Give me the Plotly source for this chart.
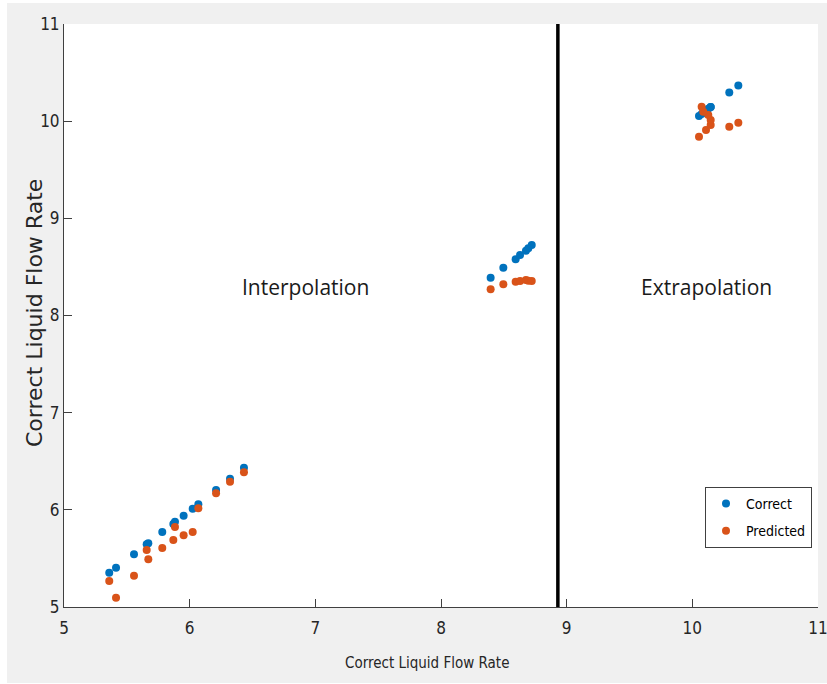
import plotly.graph_objects as go

# ---- data ----
correct_x = [5.360, 5.414, 5.557, 5.658, 5.671, 5.782, 5.870, 5.883, 5.952, 6.024, 6.069, 6.210, 6.321, 6.432,
             8.395, 8.496, 8.594, 8.629, 8.676, 8.695, 8.722,
             10.053, 10.109, 10.146, 10.146, 10.127, 10.087, 10.074, 10.294, 10.366]
correct_y = [5.353, 5.405, 5.543, 5.646, 5.656, 5.772, 5.854, 5.878, 5.940, 6.012, 6.058, 6.204, 6.320, 6.433,
             8.389, 8.492, 8.578, 8.623, 8.667, 8.692, 8.726,
             10.053, 10.109, 10.146, 10.146, 10.127, 10.087, 10.074, 10.294, 10.366]
predicted_y = [5.268, 5.096, 5.322, 5.587, 5.491, 5.607, 5.690, 5.824, 5.738, 5.772, 6.016, 6.170, 6.290, 6.386,
               8.270, 8.321, 8.348, 8.355, 8.365, 8.358, 8.355,
               9.840, 9.909, 9.961, 10.012, 10.064, 10.097, 10.149, 9.943, 9.984]
boundary_x = [8.93, 8.93]
boundary_y = [5, 11]
tick_vals = [5, 6, 7, 8, 9, 10, 11]
region_labels = ["Interpolation", "Extrapolation"]
region_x = [6.92, 10.11]
region_y = [8.29, 8.29]

narrow = "Liberation Sans Narrow, DejaVu Sans Condensed, Arial Narrow, sans-serif"
axis_col = "#404040"
txt_col = "#262626"

fig = go.Figure()
fig.add_trace(go.Scatter(x=correct_x, y=correct_y, mode="markers", name="Correct",
                         legendgroup="a",
                         marker=dict(color="#0072BD", size=8)))
fig.add_trace(go.Scatter(x=correct_x, y=predicted_y, mode="markers", name="Predicted",
                         legendgroup="b",
                         marker=dict(color="#D95319", size=8)))
fig.add_trace(go.Scatter(x=boundary_x, y=boundary_y, mode="lines", showlegend=False,
                         line=dict(color="black", width=3.5), hoverinfo="skip"))

W, H = 827, 684
ml, mr, mt, mb = 64, 9, 24, 77
pw, ph = W - ml - mr, H - mt - mb

def px2paperx(p):
    return (p - ml) / pw

def py2papery(p):
    return (H - mb - p) / ph

shapes = [
    dict(type="rect", xref="paper", yref="paper", layer="below",
         x0=px2paperx(7), x1=px2paperx(830), y0=py2papery(683), y1=py2papery(3),
         fillcolor="#f0f0f0", line=dict(width=0)),
    dict(type="rect", xref="paper", yref="paper", layer="below",
         x0=0, x1=1, y0=0, y1=1, fillcolor="white", line=dict(width=0)),
]

annotations = [
    dict(text=t, x=x, y=y, xref="x", yref="y", showarrow=False,
         font=dict(family="Open Sans, sans-serif", size=21, color="#1a1a1a"))
    for t, x, y in zip(region_labels, region_x, region_y)
]
annotations.append(dict(text="Correct Liquid Flow Rate", xref="paper", yref="paper",
                        x=px2paperx(34), y=py2papery(313), textangle=-90, showarrow=False,
                        xanchor="center", yanchor="middle",
                        font=dict(family="DejaVu Sans, sans-serif", size=22, color=txt_col)))
annotations.append(dict(text="Correct Liquid Flow Rate", xref="paper", yref="paper",
                        x=px2paperx(427), y=py2papery(663), showarrow=False,
                        xanchor="center", yanchor="middle",
                        font=dict(family=narrow, size=15, color=txt_col)))

fig.update_layout(
    width=W, height=H,
    margin=dict(l=ml, r=mr, t=mt, b=mb, autoexpand=False),
    paper_bgcolor="white", plot_bgcolor="rgba(0,0,0,0)",
    shapes=shapes, annotations=annotations,
    legend=dict(x=px2paperx(812), y=py2papery(548), xanchor="right", yanchor="bottom",
                bgcolor="white", bordercolor=axis_col, borderwidth=1,
                font=dict(family=narrow, size=14, color="black"),
                itemsizing="trace", tracegroupgap=6, traceorder="grouped",
                itemwidth=30),
    showlegend=True,
)
fig.update_xaxes(range=[5, 11], tickvals=tick_vals, ticks="inside", ticklen=8, tickcolor=axis_col,
                 showline=True, linecolor=axis_col, linewidth=1, showgrid=False, zeroline=False,
                 automargin=False, ticklabeloverflow="allow", ticklabelstandoff=6,
                 tickfont=dict(family=narrow, size=17, color=txt_col))
fig.update_yaxes(range=[5, 11], tickvals=tick_vals, ticks="inside", ticklen=8, tickcolor=axis_col,
                 showline=True, linecolor=axis_col, linewidth=1, showgrid=False, zeroline=False,
                 automargin=False, ticklabeloverflow="allow",
                 tickfont=dict(family=narrow, size=17, color=txt_col))

fig.write_html("out.html", config={"displayModeBar": False},
               post_script="document.body.style.margin='0';document.body.style.padding='0';")
